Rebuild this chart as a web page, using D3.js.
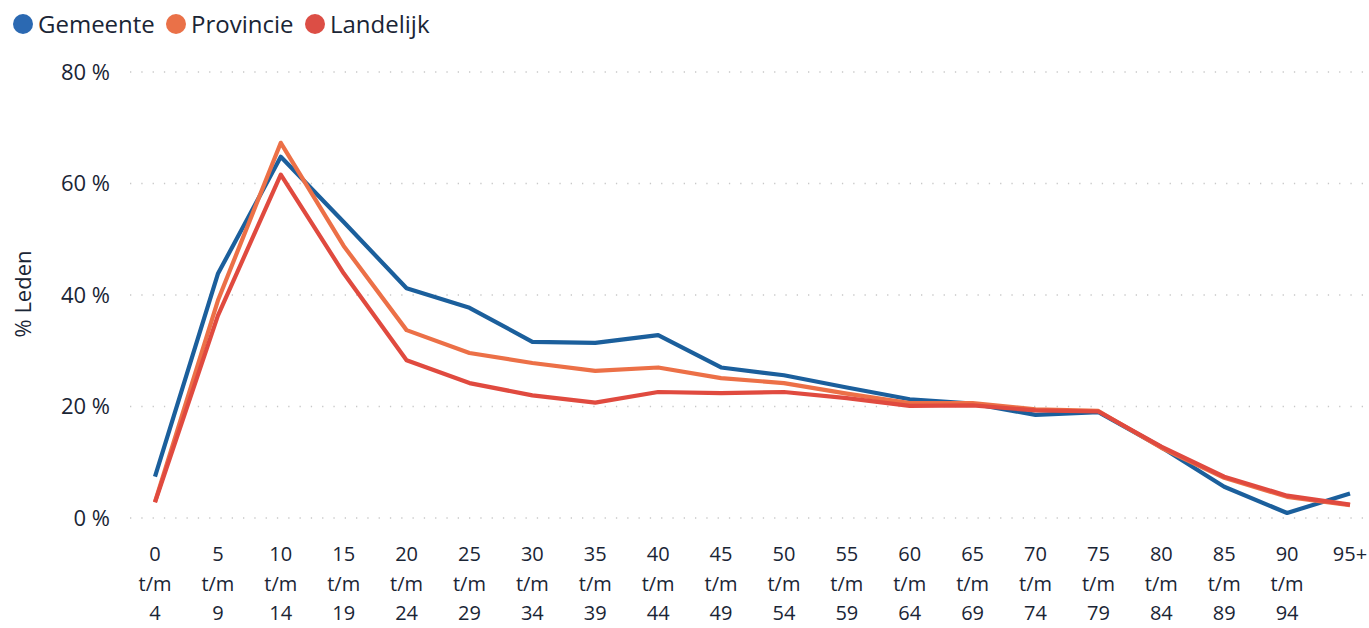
<!DOCTYPE html>
<html>
<head>
<meta charset="utf-8">
<title>% Leden per leeftijd</title>
<script src="https://d3js.org/d3.v7.min.js"></script>
<style>
  body { margin: 0; background: #fff; }
  svg { display: block; font-family: "Open Sans", "Noto Sans", sans-serif; }
</style>
</head>
<body>
<div id="chart"></div>
<script>
// age groups on the x axis (first line / last line of each label)
var groupStart = ["0","5","10","15","20","25","30","35","40","45","50","55","60","65","70","75","80","85","90","95+"];
var groupEnd   = ["4","9","14","19","24","29","34","39","44","49","54","59","64","69","74","79","84","89","94",""];

var gemeente  = [7.4, 43.8, 64.8, 53.1, 41.2, 37.7, 31.6, 31.4, 32.8, 27.0, 25.6, 23.4, 21.3, 20.5, 18.5, 19.0, 12.7, 5.6, 0.9, 4.4];
var provincie = [2.9, 39.0, 67.3, 48.8, 33.7, 29.6, 27.8, 26.4, 27.0, 25.1, 24.2, 22.3, 20.6, 20.6, 19.5, 19.2, 12.6, 7.2, 3.8, 2.3];
var landelijk = [2.8, 36.3, 61.6, 43.9, 28.3, 24.2, 22.0, 20.7, 22.6, 22.4, 22.6, 21.5, 20.1, 20.2, 19.3, 19.1, 12.8, 7.4, 4.0, 2.4];

var seriesNames = ["Gemeente", "Provincie", "Landelijk"];
var yTicks = [0, 20, 40, 60, 80];

var width = 1369, height = 628;
var colors = { Gemeente: "#1b5f9c", Provincie: "#ec7047", Landelijk: "#e04a3f" };
var dotColors = { Gemeente: "#2b69b2", Provincie: "#ea7148", Landelijk: "#dc4e45" };
var textColor = "#1a2535";

var svg = d3.select("#chart").append("svg")
  .attr("width", width)
  .attr("height", height);

var x = d3.scalePoint().domain(groupStart).range([155, 1350]);
var y = d3.scaleLinear().domain([0, 80]).range([518, 72]);

// gridlines
svg.append("g").selectAll("line")
  .data(yTicks)
  .enter().append("line")
  .attr("x1", 130).attr("x2", width)
  .attr("y1", function(d){ return y(d); })
  .attr("y2", function(d){ return y(d); })
  .attr("stroke", "#c8c8c8")
  .attr("stroke-width", 1.3)
  .attr("stroke-dasharray", "1.3,10");

// y axis labels
var yAxis = d3.axisLeft(y).tickValues(yTicks).tickSize(0).tickPadding(0)
  .tickFormat(function(d){ return d + " %"; });
svg.append("g")
  .attr("transform", "translate(110,0)")
  .call(yAxis)
  .call(function(g){ g.select(".domain").remove(); })
  .selectAll("text")
  .attr("font-size", 22)
  .attr("fill", textColor)
  .attr("font-family", "'Open Sans', sans-serif");

// y title
svg.append("text")
  .attr("transform", "translate(31,294) rotate(-90)")
  .attr("text-anchor", "middle")
  .attr("font-size", 22)
  .attr("fill", textColor)
  .text("% Leden");

// x axis labels, three lines each
var xl = svg.append("g").selectAll("text")
  .data(groupStart)
  .enter().append("text")
  .attr("text-anchor", "middle")
  .attr("font-size", 20)
  .attr("fill", textColor);
xl.append("tspan").attr("x", function(d){ return x(d); }).attr("y", 561).text(function(d){ return d; });
xl.append("tspan").attr("x", function(d){ return x(d); }).attr("y", 591)
  .text(function(d, i){ return groupEnd[i] ? "t/m" : ""; });
xl.append("tspan").attr("x", function(d){ return x(d); }).attr("y", 620)
  .text(function(d, i){ return groupEnd[i]; });

// lines
var data = { Gemeente: gemeente, Provincie: provincie, Landelijk: landelijk };
var line = d3.line()
  .x(function(d, i){ return x(groupStart[i]); })
  .y(function(d){ return y(d); });

seriesNames.forEach(function(name){
  svg.append("path")
    .datum(data[name])
    .attr("d", line)
    .attr("fill", "none")
    .attr("stroke", colors[name])
    .attr("stroke-width", 4.2)
    .attr("stroke-linejoin", "round");
});

// legend
var legendX = [23, 176, 315];
var lg = svg.append("g").selectAll("g")
  .data(seriesNames)
  .enter().append("g")
  .attr("transform", function(d, i){ return "translate(" + legendX[i] + ",24)"; });
lg.append("circle").attr("r", 10).attr("fill", function(d){ return dotColors[d]; });
lg.append("text")
  .attr("x", 15).attr("y", 9)
  .attr("font-size", 24)
  .attr("fill", textColor)
  .text(function(d){ return d; });
</script>
</body>
</html>
